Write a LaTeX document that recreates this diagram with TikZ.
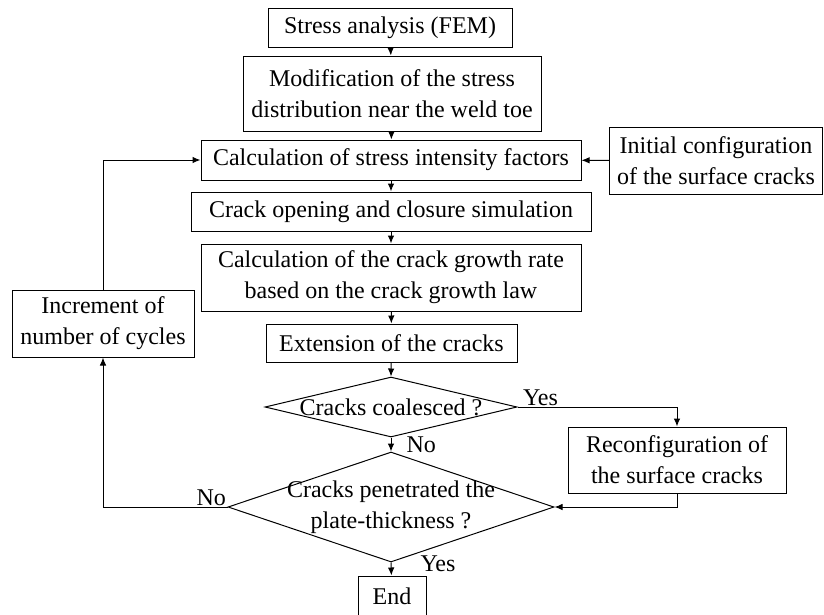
\documentclass[tikz,border=0pt]{standalone}
\usepackage{fontspec}
\setmainfont{Liberation Serif}
\usetikzlibrary{arrows.meta,shapes.geometric}

\begin{document}
\begin{tikzpicture}[x=1pt, y=-1pt, line width=1pt,
	box/.style={draw, rectangle, inner sep=2pt, align=center, font=\fontsize{24}{31}\selectfont},
	dia/.style={draw, diamond, inner sep=0pt},
	arr/.style={-{Latex[length=8pt,width=6.5pt]}},
	lbl/.style={font=\fontsize{24}{31}\selectfont, inner sep=1pt}]
		%%%%% START %%%%%
		\clip (0,0) rectangle (824,614);
		
		\node[box, minimum width=244, minimum height=39] (fem) at (390, 27.5) {Stress analysis (FEM)};
		\node[box, minimum width=298, minimum height=75] (modif) at (392, 93.5) {Modification of the stress\\distribution near the weld toe};
		\node[box, minimum width=380, minimum height=40] (sif) at (391, 160) {Calculation of stress intensity factors};
		\node[box, minimum width=400, minimum height=39] (clos) at (391, 211.5) {Crack opening and closure simulation};
		\node[box, minimum width=380, minimum height=67] (rate) at (391, 277.5) {Calculation of the crack growth rate\\based on the crack growth law};
		\node[box, minimum width=251, minimum height=38] (ext) at (391.5, 343) {Extension of the cracks};
		
		\node[dia, minimum width=252, minimum height=60, label={[lbl]center:Cracks coalesced ?}] (coal) at (391, 407) {};
		\node[dia, minimum width=326, minimum height=110, label={[lbl, align=center]center:Cracks penetrated the\\plate-thickness ?}] (pen) at (391, 507) {};
		\node[box, minimum width=68, minimum height=40] (fin) at (392, 596) {End};
		
		\node[box, minimum width=182, minimum height=67] (incr) at (103, 323.5) {Increment of\\number of cycles};
		\node[box, minimum width=213, minimum height=67] (init) at (716, 160.5) {Initial configuration\\of the surface cracks};
		\node[box, minimum width=218, minimum height=66] (reconf) at (677, 460) {Reconfiguration of\\the surface cracks};
		
		\draw[arr] (fem) -- (modif);
		\draw[arr] (modif) -- (sif);
		\draw[arr] (sif) -- (clos);
		\draw[arr] (clos) -- (rate);
		\draw[arr] (rate) -- (ext);
		\draw[arr] (ext) -- (coal.north);
		\draw[arr] (coal.south) -- (pen.north) node[lbl, midway, right, xshift=14] {No};
		\draw[arr] (pen.south) -- (fin) node[lbl, pos=0.1, right, xshift=28] {Yes};
		\draw[arr] (init) -- (sif);
		
		\draw[arr] (coal.east) -| (reconf.north) node[lbl, pos=0, above right, xshift=4] {Yes};
		\draw[arr] (reconf.south) |- (pen.east);
		\draw[arr] (pen.west) -| (incr.south) node[lbl, pos=0, above left] {No};
		\draw[arr] (incr.north) |- (sif.west);
		%%%%% END %%%%%
	\end{tikzpicture}
\end{document}
